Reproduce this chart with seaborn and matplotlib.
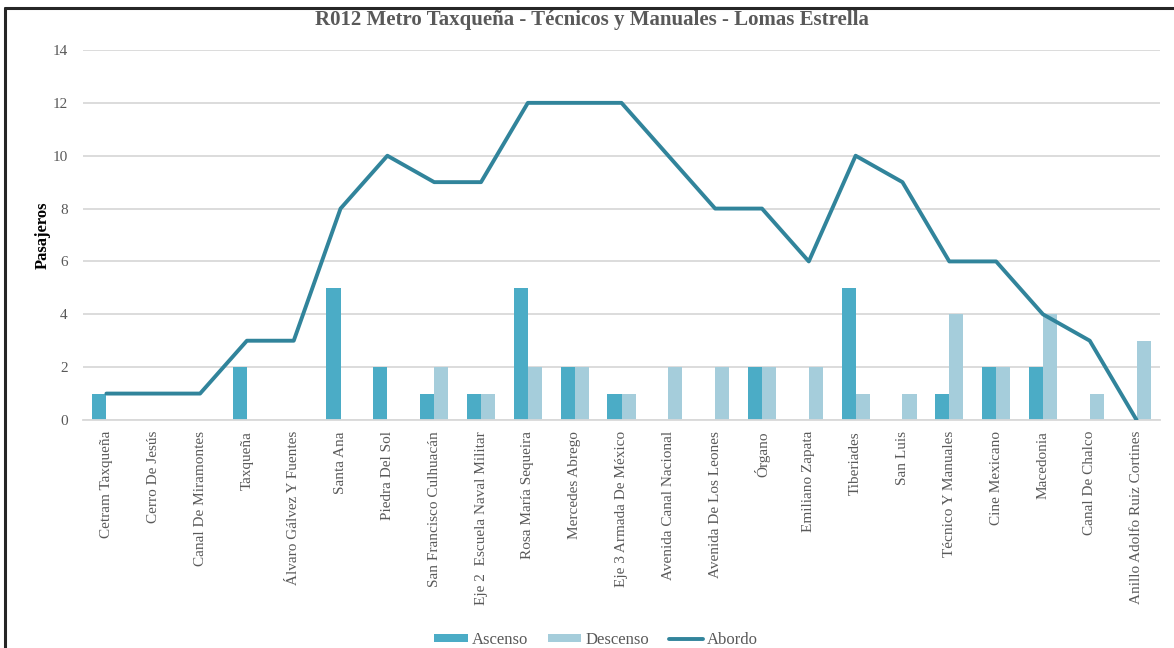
import pandas as pd
import numpy as np
import matplotlib
matplotlib.use("Agg")
import matplotlib.pyplot as plt
from matplotlib.lines import Line2D
from matplotlib.patches import Patch
import seaborn as sns

# Stops along route R012
stations = [
    "Cetram Taxqueña", "Cerro De Jesús", "Canal De Miramontes", "Taxqueña",
    "Álvaro Gálvez Y Fuentes", "Santa Ana", "Piedra Del Sol",
    "San Francisco Culhuacán", "Eje 2  Escuela Naval Militar",
    "Rosa María Sequeira", "Mercedes Abrego", "Eje 3 Armada De México",
    "Avenida Canal Nacional", "Avenida De Los Leones", "Órgano",
    "Emiliano Zapata", "Tiberiades", "San Luis", "Técnico Y Manuales",
    "Cine Mexicano", "Macedonia", "Canal De Chalco",
    "Anillo Adolfo Ruiz Cortines",
]
ascenso = [1, 0, 0, 2, 0, 5, 2, 1, 1, 5, 2, 1, 0, 0, 2, 0, 5, 0, 1, 2, 2, 0, 0]
descenso = [0, 0, 0, 0, 0, 0, 0, 2, 1, 2, 2, 1, 2, 2, 2, 2, 1, 1, 4, 2, 4, 1, 3]
abordo = [1, 1, 1, 3, 3, 8, 10, 9, 9, 12, 12, 12, 10, 8, 8, 6, 10, 9, 6, 6, 4, 3, 0]
y_ticks = [0, 2, 4, 6, 8, 10, 12, 14]

title = "R012 Metro Taxqueña - Técnicos y Manuales - Lomas Estrella"

c_asc = "#4BACC6"
c_desc = "#A5CDDB"
c_line = "#31849B"
gray = "#595959"

sns.set_theme(style="white")
plt.rcParams["font.family"] = ["Liberation Serif", "DejaVu Serif"]

# long format table for the grouped bars
df = pd.DataFrame({
    "station": stations * 2,
    "serie": ["Ascenso"] * len(stations) + ["Descenso"] * len(stations),
    "valor": ascenso + descenso,
})

fig = plt.figure(figsize=(11.74, 6.48), dpi=100)
ax = fig.add_axes([83 / 1174, 1 - 420 / 648, (1160 - 83) / 1174, 370 / 648])

sns.barplot(data=df, x="station", y="valor", hue="serie", order=stations,
            hue_order=["Ascenso", "Descenso"],
            palette=[c_asc, c_desc], width=0.6, saturation=1,
            linewidth=0, edgecolor="none",
            legend=False, ax=ax, zorder=2)
sns.lineplot(x=np.arange(len(stations)), y=abordo, color=c_line, lw=2.8,
             ax=ax, zorder=3)

ax.set_xlim(-0.5, len(stations) - 0.5)
ax.set_ylim(0, 14)
ax.set_yticks(y_ticks)
ax.set_xticks(range(len(stations)))
ax.set_xticklabels(stations, rotation=90, va="top", ha="center")
ax.tick_params(axis="x", length=0, pad=8, labelsize=11, labelcolor=gray)
ax.tick_params(axis="y", length=0, pad=11, labelsize=11, labelcolor=gray)
ax.yaxis.grid(True, color="#D9D9D9", lw=1.3, zorder=0)
ax.set_axisbelow(True)
for s in ["top", "right", "left"]:
    ax.spines[s].set_visible(False)
ax.spines["bottom"].set_color("#D9D9D9")
ax.spines["bottom"].set_linewidth(1.3)
ax.set_xlabel("")
ax.set_ylabel("Pasajeros", fontsize=12, fontweight="bold", color="black",
              labelpad=1)

fig.text(592 / 1174, 1 - 20 / 648, title, ha="center", va="center",
         fontsize=15, fontweight="bold", color=gray)

handles = [
    Patch(facecolor=c_asc, edgecolor="none"),
    Patch(facecolor=c_desc, edgecolor="none"),
    Line2D([0], [0], color=c_line, lw=2.8),
]
leg = fig.legend(handles, ["Ascenso", "Descenso", "Abordo"], loc="center",
                 bbox_to_anchor=(596 / 1174, 1 - 640 / 648), ncol=3,
                 frameon=False, fontsize=12, handlelength=2.0,
                 handleheight=0.4, handletextpad=0.25, columnspacing=1.2)
for t in leg.get_texts():
    t.set_color(gray)

# black frame on the left and top, as in the source
fig.add_artist(Line2D([5 / 1174, 5 / 1174], [0, 1 - 8 / 648],
                      color="#262626", lw=2.2, transform=fig.transFigure))
fig.add_artist(Line2D([5 / 1174, 1], [1 - 8 / 648, 1 - 8 / 648],
                      color="#262626", lw=2.2, transform=fig.transFigure))

fig.savefig("out.png", dpi=100, facecolor="white")
